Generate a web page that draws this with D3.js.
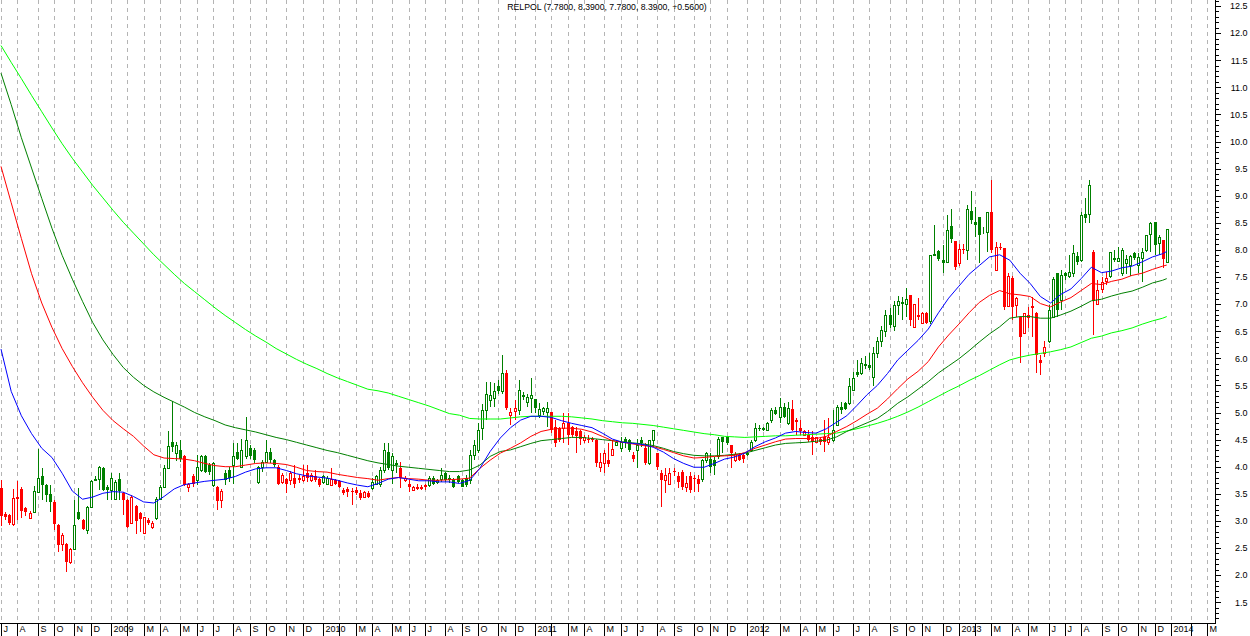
<!DOCTYPE html>
<html><head><meta charset="utf-8">
<script src="https://cdn.jsdelivr.net/npm/d3@7"></script>
<style>
body{margin:0;background:#fff}
svg{display:block}
text{font-family:"Liberation Sans",Arial,sans-serif}
</style>
</head><body>
<svg id="c" width="1250" height="636"></svg>
<script>
// ---------------- DATA ----------------
const ticker = "RELPOL";
const firstWeek = "2008-07-04";           // Friday of first weekly bar
const axisEndWeek = 296;                   // axis runs to March 2014
const closedFridays = ["2009-01-02","2009-05-01","2010-01-01","2013-11-01"];
const monthLetters = ["J","F","M","A","M","J","J","A","S","O","N","D"];
const priceTicks = [1.5,2.0,2.5,3.0,3.5,4.0,4.5,5.0,5.5,6.0,6.5,7.0,7.5,8.0,8.5,9.0,9.5,10.0,10.5,11.0,11.5,12.0,12.5];

const opens = [3.60,3.12,3.10,2.94,3.45,3.59,3.23,3.05,3.17,3.54,
3.83,3.66,3.50,3.35,2.92,2.57,2.57,2.25,2.49,3.16,
3.02,2.84,3.25,3.76,3.78,3.97,3.63,3.57,3.40,3.77,
3.52,3.39,2.97,3.28,3.14,2.77,3.02,2.89,3.05,3.40,
3.63,3.98,4.46,4.25,4.31,4.19,3.63,3.83,3.75,3.94,
4.19,4.03,3.66,3.63,3.39,3.88,3.94,4.03,4.28,4.00,
4.19,4.34,4.31,3.72,4.00,4.09,4.28,4.12,4.00,3.72,
3.77,3.75,3.80,3.80,3.75,3.88,3.75,3.83,3.77,3.72,
3.68,3.66,3.75,3.74,3.57,3.58,3.56,3.57,3.51,3.45,
3.51,3.60,3.69,3.69,3.94,4.28,3.94,4.06,3.97,3.75,
3.68,3.57,3.63,3.63,3.66,3.66,3.80,3.71,3.78,3.88,
3.80,3.75,3.82,3.75,3.79,3.75,4.22,4.31,4.71,5.05,
5.23,5.26,5.48,5.39,5.72,4.96,5.02,5.05,5.32,5.20,
5.26,5.24,4.95,5.02,5.00,5.00,4.74,4.71,4.71,4.80,
4.73,4.65,4.65,4.49,4.52,4.51,4.49,4.00,4.06,4.12,
4.22,4.40,4.34,4.52,4.49,4.22,4.31,4.49,4.34,4.06,
4.49,4.25,3.88,3.75,3.69,3.92,3.82,3.91,3.62,3.82,
3.80,3.77,3.77,4.12,4.15,4.12,4.19,4.54,4.54,4.40,
4.12,4.22,4.22,4.25,4.31,4.49,4.71,4.69,4.68,4.86,
5.05,4.92,5.11,4.80,5.06,4.86,4.71,4.59,4.59,4.55,
4.46,4.52,4.54,4.46,4.49,4.77,5.11,5.17,5.17,5.42,
5.75,5.72,5.90,5.88,5.66,6.10,6.32,6.50,6.80,6.60,
6.98,7.04,7.01,7.17,6.58,6.80,6.66,6.84,6.68,7.90,
7.98,7.81,7.78,8.44,8.17,7.75,8.02,8.00,8.72,8.52,
8.61,8.36,8.33,8.70,7.63,8.05,8.03,6.96,7.49,6.98,
6.77,6.47,6.77,6.96,6.83,5.97,6.09,6.31,6.77,7.57,
7.08,7.57,7.52,7.57,7.88,7.81,8.67,8.67,7.97,7.01,
7.27,7.43,7.51,7.85,7.80,7.57,7.75,7.72,7.94,7.72,
7.85,8.00,8.29,8.52,8.12,8.18,7.78];

const highs = [3.75,3.16,3.13,3.58,3.74,3.62,3.26,3.18,3.65,4.32,
3.97,3.69,3.66,3.38,2.94,2.78,2.60,2.50,3.39,3.60,
3.03,3.27,3.75,3.82,4.02,3.99,3.66,3.88,3.75,3.88,
3.54,3.40,3.47,3.30,3.16,3.08,3.06,3.00,3.45,3.66,
4.03,4.66,5.22,4.45,4.49,4.22,3.70,3.86,4.22,4.22,
4.22,4.06,4.08,3.65,3.58,3.94,4.00,4.43,4.43,4.52,
4.92,4.40,4.34,4.02,4.12,4.49,4.34,4.15,4.03,3.88,
3.80,3.92,4.03,3.85,4.03,4.03,3.88,3.94,3.80,3.85,
3.82,3.97,3.78,3.76,3.60,3.63,3.60,3.62,3.57,3.56,
3.55,3.79,3.85,4.00,4.43,4.43,4.25,4.12,4.09,3.82,
3.75,3.65,3.69,3.66,3.69,3.82,3.83,3.78,3.97,3.90,
3.85,3.80,3.85,3.78,3.85,4.31,4.49,4.80,5.15,5.57,
5.57,5.55,5.60,6.06,5.78,5.08,5.23,5.60,5.38,5.35,
5.63,5.24,5.17,5.11,5.20,5.00,4.86,4.74,4.99,4.99,
4.76,4.74,4.68,4.59,4.58,4.55,4.52,4.25,4.31,4.43,
4.49,4.50,4.55,4.55,4.52,4.28,4.52,4.55,4.43,4.49,
4.68,4.25,3.94,3.97,3.97,3.97,3.91,3.94,3.82,3.91,
3.85,3.85,4.15,4.28,4.25,4.18,4.55,4.55,4.56,4.40,
4.28,4.25,4.25,4.27,4.49,4.80,4.77,4.74,4.83,5.08,
5.10,5.26,5.17,5.20,5.23,4.89,4.86,4.67,4.68,4.65,
4.55,4.55,4.86,4.89,5.05,5.14,5.20,5.20,5.63,5.75,
5.97,6.00,6.05,6.10,6.20,6.40,6.60,6.90,6.92,7.05,
7.15,7.13,7.29,7.17,7.01,7.11,6.86,6.86,7.91,8.46,
8.00,8.09,8.64,8.75,8.17,8.11,8.10,8.83,9.09,8.80,
8.61,8.42,8.70,9.29,8.15,8.12,8.03,7.57,7.51,7.14,
6.77,6.83,6.95,7.14,6.85,6.06,6.31,6.98,7.50,7.57,
7.63,7.60,7.91,8.09,7.97,8.70,8.95,9.29,8.00,7.44,
7.50,7.60,7.97,8.00,8.06,8.03,7.91,7.91,7.97,7.94,
8.03,8.27,8.52,8.52,8.27,8.18,8.39];

const lows = [2.91,3.02,2.93,2.90,3.02,3.05,3.09,3.04,3.14,3.52,
3.38,3.35,3.17,2.83,2.43,2.45,2.06,2.20,2.48,3.02,
2.83,2.75,3.24,3.74,3.57,3.55,3.39,3.39,3.39,3.39,
3.11,2.87,2.95,2.75,2.80,2.75,2.92,2.85,3.02,3.38,
3.60,3.95,4.28,4.10,4.09,3.64,3.54,3.62,3.66,3.91,
3.88,3.85,3.62,3.20,3.23,3.66,3.72,3.69,4.12,3.98,
4.15,4.15,4.06,3.69,3.91,4.06,4.06,4.00,3.66,3.69,
3.51,3.66,3.60,3.70,3.72,3.72,3.72,3.72,3.63,3.69,
3.66,3.64,3.66,3.60,3.48,3.45,3.29,3.47,3.39,3.42,
3.42,3.57,3.66,3.63,3.88,3.94,3.69,3.88,3.60,3.72,
3.54,3.55,3.57,3.57,3.57,3.63,3.66,3.69,3.72,3.72,
3.70,3.60,3.70,3.62,3.62,3.69,4.12,4.25,4.49,4.86,
5.11,5.11,5.35,5.35,5.05,4.77,4.86,4.95,5.23,5.11,
4.99,4.99,4.90,4.95,4.74,4.62,4.37,4.46,4.43,4.40,
4.55,4.25,4.40,4.43,4.43,4.45,4.00,3.91,3.88,4.00,
4.19,4.38,4.28,4.34,4.28,4.09,3.97,4.37,4.03,4.03,
4.37,3.94,3.26,3.51,3.66,3.82,3.60,3.57,3.54,3.51,
3.54,3.54,3.72,4.06,3.88,3.85,4.15,4.25,4.40,3.97,
4.09,4.10,4.06,4.19,4.28,4.46,4.65,4.66,4.65,4.80,
4.95,4.80,4.89,4.77,4.65,4.59,4.59,4.56,4.46,4.22,
4.43,4.40,4.28,4.40,4.46,4.77,4.98,5.05,5.14,5.42,
5.65,5.70,5.80,5.78,5.48,6.00,6.20,6.40,6.55,6.50,
6.80,6.71,6.77,6.59,6.58,6.71,6.64,6.64,6.64,7.88,
7.80,7.57,7.75,8.12,7.63,7.70,7.92,7.82,8.47,8.24,
7.75,8.30,7.97,7.95,7.63,8.00,6.89,6.94,6.71,6.77,
5.91,6.45,6.55,6.40,5.72,5.69,6.03,6.28,6.74,6.77,
6.89,7.45,7.49,7.50,7.72,7.78,8.49,8.49,6.43,6.99,
7.20,7.35,7.49,7.78,7.78,7.51,7.55,7.51,7.82,7.57,
7.41,7.97,7.97,7.91,7.91,7.66,7.78];

const closes = [3.09,3.07,2.96,3.42,3.40,3.19,3.17,3.14,3.55,3.80,
3.66,3.48,3.35,2.95,2.55,2.74,2.25,2.49,2.92,3.03,
2.85,3.26,3.74,3.77,3.99,3.57,3.57,3.79,3.72,3.56,
3.39,2.88,3.44,3.00,3.03,3.07,2.97,2.97,3.40,3.63,
3.97,4.38,4.37,4.40,4.15,3.66,3.69,3.68,4.00,4.19,
3.91,3.91,4.06,3.37,3.55,3.75,3.79,4.19,4.15,4.31,
4.50,4.19,4.12,4.00,4.09,4.28,4.12,4.03,3.69,3.85,
3.69,3.88,3.68,3.75,3.82,3.80,3.85,3.75,3.66,3.82,
3.80,3.78,3.69,3.63,3.51,3.54,3.54,3.51,3.43,3.54,
3.45,3.72,3.82,3.94,4.31,3.97,4.19,4.03,3.79,3.80,
3.62,3.63,3.58,3.59,3.63,3.79,3.69,3.75,3.85,3.75,
3.76,3.63,3.72,3.63,3.66,4.22,4.40,4.68,5.04,5.35,
5.32,5.39,5.39,5.72,5.08,5.01,5.08,5.42,5.29,5.29,
5.32,5.08,5.06,5.08,5.08,4.68,4.43,4.49,4.80,4.59,
4.59,4.57,4.52,4.55,4.49,4.49,4.06,4.09,4.25,4.05,
4.32,4.46,4.46,4.46,4.31,4.14,4.40,4.43,4.06,4.49,
4.68,4.00,3.75,3.85,3.88,3.91,3.72,3.63,3.70,3.57,
3.78,3.69,4.12,4.25,4.00,4.02,4.52,4.46,4.44,4.25,
4.24,4.13,4.14,4.22,4.46,4.71,4.69,4.71,4.80,5.05,
4.98,5.11,4.92,5.08,4.68,4.82,4.65,4.66,4.49,4.46,
4.54,4.46,4.46,4.55,4.68,5.11,5.05,5.06,5.48,5.63,
5.69,5.91,5.85,5.82,6.10,6.32,6.52,6.80,6.62,6.98,
7.05,7.01,7.10,6.71,7.01,6.77,6.84,6.66,7.91,7.92,
7.83,7.75,8.37,8.21,7.69,8.01,8.00,8.75,8.55,8.46,
8.27,8.37,8.70,8.00,8.06,8.03,6.95,7.51,6.95,7.12,
6.40,6.83,6.80,6.92,6.06,5.92,6.21,6.89,7.47,6.89,
7.54,7.51,7.60,7.94,7.77,8.64,8.58,9.20,7.05,7.26,
7.41,7.49,7.97,7.81,7.85,8.00,7.83,7.89,7.85,7.86,
7.97,8.27,8.49,8.09,8.24,7.83,8.39];

// bar colour signal (g = up, r = down), run-length encoded
const signalRuns = [["r",8],["g",5],["r",5],["g",2],["r",1],["g",9],["r",8],["g",7],["r",3],["g",5],["r",2],["g",13],["r",11],["g",2],["r",10],["g",7],["r",7],["g",19],["r",3],["g",8],["r",16],["g",4],["r",1],["g",2],["r",1],["g",2],["r",11],["g",7],["r",4],["g",11],["r",10],["g",19],["r",5],["g",6],["r",3],["g",6],["r",14],["g",11],["r",4],["g",13],["r",1],["g",1]];

// moving averages sampled every 2.5 weeks (plus the last week)
const maStep = 2.5, maLastWeek = 286;
const maBlue = [6.17,5.39,4.94,4.61,4.34,4.17,3.88,3.55,3.40,3.44,3.51,3.54,3.53,3.45,3.35,3.33,3.45,3.59,3.67,3.70,3.73,3.75,
3.77,3.82,3.90,3.96,3.98,3.98,3.93,3.87,3.83,3.81,3.79,3.75,3.70,3.66,3.63,3.69,3.77,3.80,3.77,3.74,3.74,3.72,3.72,3.69,3.75,3.97,
4.28,4.53,4.72,4.86,4.93,4.93,4.91,4.85,4.80,4.76,4.72,4.62,4.51,4.45,4.43,4.41,4.36,4.27,4.15,4.06,3.99,3.99,4.06,4.14,4.18,4.25,
4.37,4.46,4.53,4.62,4.65,4.63,4.62,4.70,4.82,4.94,5.13,5.33,5.50,5.72,5.97,6.15,6.33,6.54,6.84,7.11,7.33,7.55,7.71,7.87,7.91,7.81,
7.57,7.38,7.14,7.02,7.18,7.28,7.47,7.68,7.58,7.61,7.67,7.70,7.78,7.87,7.93,
7.97];
const maRed = [9.54,8.87,8.21,7.56,7.02,6.57,6.18,5.85,5.55,5.28,5.04,4.85,4.70,4.56,4.38,4.22,4.16,4.15,4.14,4.11,4.06,4.02,
4.00,4.00,4.03,4.06,4.07,4.06,4.04,3.99,3.93,3.91,3.90,3.86,3.83,3.80,3.78,3.75,3.78,3.80,3.78,3.77,3.75,3.75,3.76,3.77,3.79,3.97,
4.12,4.25,4.34,4.44,4.56,4.65,4.69,4.71,4.71,4.69,4.64,4.56,4.48,4.45,4.42,4.39,4.37,4.32,4.26,4.20,4.16,4.17,4.19,4.20,4.21,4.26,
4.34,4.40,4.46,4.51,4.52,4.52,4.52,4.56,4.65,4.74,4.85,4.97,5.08,5.25,5.44,5.62,5.76,5.94,6.21,6.43,6.63,6.84,7.03,7.16,7.25,7.19,
7.17,7.14,7.01,6.95,7.04,7.12,7.25,7.38,7.36,7.42,7.46,7.53,7.57,7.64,7.70,
7.72];
const maDarkGreen = [11.26,10.68,10.07,9.51,8.95,8.40,7.90,7.46,7.05,6.66,6.34,6.07,5.83,5.65,5.50,5.38,5.28,5.19,5.10,5.00,4.92,4.85,
4.77,4.72,4.68,4.64,4.59,4.54,4.50,4.45,4.40,4.35,4.30,4.26,4.21,4.16,4.11,4.07,4.04,4.01,3.99,3.97,3.95,3.93,3.91,3.91,3.94,4.03,
4.19,4.28,4.31,4.37,4.43,4.48,4.50,4.52,4.54,4.54,4.52,4.50,4.48,4.46,4.44,4.42,4.39,4.34,4.28,4.24,4.21,4.20,4.20,4.21,4.23,4.25,
4.30,4.35,4.40,4.43,4.44,4.45,4.47,4.49,4.55,4.65,4.73,4.81,4.89,5.02,5.17,5.29,5.43,5.57,5.73,5.86,5.99,6.14,6.30,6.45,6.58,6.74,
6.77,6.77,6.74,6.74,6.80,6.87,6.96,7.06,7.09,7.15,7.20,7.24,7.31,7.39,7.44,
7.47];
const maLightGreen = [11.77,11.46,11.16,10.85,10.55,10.25,9.96,9.69,9.44,9.19,8.96,8.73,8.51,8.31,8.11,7.91,7.73,7.55,7.38,7.23,7.08,6.93,
6.79,6.66,6.53,6.41,6.30,6.18,6.08,5.98,5.89,5.81,5.72,5.64,5.57,5.50,5.43,5.40,5.36,5.30,5.24,5.18,5.12,5.05,4.98,4.95,4.89,4.88,
4.88,4.88,4.90,4.92,4.93,4.93,4.93,4.93,4.92,4.90,4.88,4.85,4.83,4.81,4.80,4.78,4.76,4.73,4.70,4.67,4.64,4.61,4.59,4.56,4.55,4.54,
4.55,4.56,4.57,4.57,4.58,4.59,4.60,4.61,4.62,4.66,4.70,4.75,4.80,4.86,4.93,5.01,5.10,5.20,5.30,5.40,5.49,5.59,5.68,5.78,5.88,5.97,
6.02,6.06,6.09,6.12,6.16,6.21,6.29,6.37,6.41,6.47,6.51,6.56,6.63,6.69,6.74,
6.77];

// ---------------- CHART ----------------
const W = 1250, H = 636;
const plotRight = 1215, plotBottom = 623;
const COLORS = {g:"#008000", r:"#ff0000"};
const signal = signalRuns.flatMap(([s,n]) => Array(n).fill(s));
const nBars = closes.length;

const parse = d3.timeParse("%Y-%m-%d");
const t0 = parse(firstWeek);
const closedSet = new Set(closedFridays);
const fmtDay = d3.timeFormat("%Y-%m-%d");
const weekDates = d3.range(0, axisEndWeek + 1).map(i => {
  const d = d3.timeDay.offset(t0, 7 * i);
  return closedSet.has(fmtDay(d)) ? d3.timeDay.offset(d, -2) : d;
});

const x = d3.scaleLinear().domain([0, axisEndWeek]).range([1, 1 + 4.076 * axisEndWeek]);
const y = d3.scaleLinear().domain([4, 12.5]).range([466.7, 466.7 - 8.5 * 54.2]);

const svg = d3.select("#c");
svg.append("rect").attr("width", W).attr("height", H).attr("fill", "#fff");
svg.append("defs").append("clipPath").attr("id", "plot")
  .append("rect").attr("x", 0).attr("y", 0).attr("width", plotRight).attr("height", plotBottom);

const monthTicks = d3.range(0, axisEndWeek + 1).filter(i =>
  i === 0 || weekDates[i].getMonth() !== weekDates[i - 1].getMonth());

// dashed vertical grid
svg.append("g").selectAll("line").data(monthTicks).join("line")
  .attr("x1", i => Math.round(x(i)) + 0.5).attr("x2", i => Math.round(x(i)) + 0.5)
  .attr("y1", 0).attr("y2", plotBottom)
  .attr("stroke", "#b4b4b4").attr("stroke-width", 1)
  .attr("stroke-dasharray", "4,4").attr("shape-rendering", "crispEdges");

// candles
const gc = svg.append("g").attr("clip-path", "url(#plot)");
const bars = d3.range(nBars);
gc.selectAll("line.wick").data(bars).join("line").attr("class", "wick")
  .attr("x1", i => Math.round(x(i)) + 0.5).attr("x2", i => Math.round(x(i)) + 0.5)
  .attr("y1", i => y(highs[i])).attr("y2", i => y(lows[i]))
  .attr("stroke", i => COLORS[signal[i]]).attr("stroke-width", 1)
  .attr("shape-rendering", "crispEdges");

gc.selectAll("rect.body").data(bars).join("rect").attr("class", "body")
  .each(function(i) {
    const top = y(Math.max(opens[i], closes[i]));
    const bot = y(Math.min(opens[i], closes[i]));
    const c = COLORS[signal[i]];
    const cx = Math.round(x(i));
    const sel = d3.select(this);
    if (closes[i] < opens[i]) {
      sel.attr("x", cx - 1).attr("y", Math.round(top)).attr("width", 3)
        .attr("height", Math.max(1, Math.round(bot) - Math.round(top)))
        .attr("fill", c).attr("stroke", "none");
    } else {
      sel.attr("x", cx - 0.5).attr("y", Math.round(top) + 0.5).attr("width", 2)
        .attr("height", Math.max(0, Math.round(bot) - Math.round(top)))
        .attr("fill", "#fff").attr("stroke", c).attr("stroke-width", 1);
    }
  })
  .attr("shape-rendering", "crispEdges");

// moving averages
const maWeeks = d3.range(0, maLastWeek, maStep).concat([maLastWeek]);
const line = d3.line().x(d => x(d[0])).y(d => y(d[1]));
const mas = [
  {vals: maLightGreen, color: "#00ff00"},
  {vals: maDarkGreen, color: "#008000"},
  {vals: maRed, color: "#ff0000"},
  {vals: maBlue, color: "#0000ff"}
];
const gl = svg.append("g").attr("clip-path", "url(#plot)");
mas.forEach(m => {
  const pts = maWeeks.map((w, k) => [w, m.vals[k]]).filter(p => p[1] != null);
  gl.append("path").datum(pts).attr("d", line)
    .attr("fill", "none").attr("stroke", m.color).attr("stroke-width", 1);
});

// right price axis
const minorTicks = d3.range(12, 127).map(v => v / 10).filter(v => Math.round(v * 10) % 5 !== 0);
const axMinor = d3.axisRight(y).tickValues(minorTicks).tickSize(3).tickFormat("");
const gMinor = svg.append("g").attr("transform", `translate(${plotRight + 0.5},0)`).call(axMinor);
gMinor.select(".domain").remove();
const axMajor = d3.axisRight(y).tickValues(priceTicks).tickSize(5).tickFormat(d3.format(".1f"));
const gMajor = svg.append("g").attr("transform", `translate(${plotRight + 0.5},0)`).call(axMajor);
gMajor.select(".domain").remove();
gMajor.selectAll("text").attr("x", 32).attr("text-anchor", "end")
  .style("font-size", "9px").style("font-family", '"Liberation Sans",Arial,sans-serif').attr("fill", "#000");
svg.selectAll(".tick line").attr("shape-rendering", "crispEdges");
svg.append("line").attr("x1", plotRight + 0.5).attr("x2", plotRight + 0.5)
  .attr("y1", 0).attr("y2", plotBottom + 0.5).attr("stroke", "#000").attr("shape-rendering", "crispEdges");

// bottom month axis
const axBottom = d3.axisBottom(x).tickValues(monthTicks).tickSize(13).tickSizeOuter(0)
  .tickFormat(i => {
    const d = weekDates[i];
    return d.getMonth() === 0 ? String(d.getFullYear()) : monthLetters[d.getMonth()];
  });
const gB = svg.append("g").attr("transform", `translate(0,${plotBottom + 0.5})`).call(axBottom);
gB.select(".domain").remove();
gB.selectAll(".tick").attr("transform", i => `translate(${Math.round(x(i)) + 0.5},0)`);
gB.selectAll(".tick line").attr("shape-rendering", "crispEdges");
gB.selectAll("text").attr("x", 2).attr("y", 2).attr("dy", "0.71em").attr("text-anchor", "start")
  .style("font-size", "9px").style("font-family", '"Liberation Sans",Arial,sans-serif').attr("fill", "#000");
let lastRight = -Infinity;
gB.selectAll(".tick").each(function(i) {
  const t = d3.select(this).select("text");
  const left = Math.round(x(i)) + 2;
  const w = t.node().getComputedTextLength();
  if (left < lastRight + 1) t.remove(); else lastRight = left + w;
});
svg.append("line").attr("x1", 0).attr("x2", plotRight + 0.5)
  .attr("y1", plotBottom + 0.5).attr("y2", plotBottom + 0.5).attr("stroke", "#000").attr("shape-rendering", "crispEdges");

// title
const L = nBars - 1;
const f4 = d3.format(".4f");
const chg = closes[L] - closes[L - 1];
svg.append("text").attr("x", 607).attr("y", 10).attr("text-anchor", "middle")
  .style("font-size", "8.7px").attr("fill", "#000")
  .text(`${ticker} (${f4(opens[L])}, ${f4(highs[L])}, ${f4(lows[L])}, ${f4(closes[L])}, ${chg >= 0 ? "+" : ""}${f4(chg)})`);
</script>
</body></html>
